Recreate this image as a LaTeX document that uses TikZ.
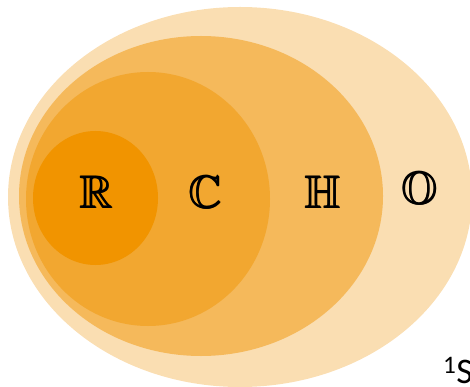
\documentclass[tikz,border=0pt]{standalone}
\usepackage{amsmath, amssymb}
\usepackage{fontspec}
\newfontfamily\notefont{Carlito}
\usepackage{tikz}
\usetikzlibrary{positioning}
\definecolor{octcol}{RGB}{250,222,178}
\definecolor{quatcol}{RGB}{245,185,91}
\definecolor{cplxcol}{RGB}{242,167,48}
\definecolor{realcol}{RGB}{241,148,0}
\tikzset{
  setlabel/.style={inner sep=0pt, font=\fontsize{46}{50}\selectfont},
}

\begin{document}
\begin{tikzpicture}[x=1pt,y=-1pt]
            \useasboundingbox (0,0) rectangle (470,387);
            \clip (0,0) rectangle (470,387);
            \coordinate (co) at (240,197);
            \coordinate (ch) at (201,196);
            \coordinate (cc) at (148,199);
            \coordinate (cr) at (95.5,198);
            \fill[octcol] (co) ellipse [x radius=232, y radius=190];
            \fill[quatcol] (ch) ellipse [x radius=182, y radius=160];
            \fill[cplxcol] (cc) ellipse [x radius=122, y radius=127];
            \fill[realcol] (cr) ellipse [x radius=62.5, y radius=67];
            \node[setlabel] (R) at (97,192) {$\pmb{\mathbb{R}}$};
            \node[setlabel] (C) at (206,192) {$\pmb{\mathbb{C}}$};
            \node[setlabel] (H) at (323,192) {$\pmb{\mathbb{H}}$};
            \node[setlabel] (O) at (420,192) {$\pmb{\mathbb{O}}$};
            \node[anchor=base west, inner sep=0pt, font=\notefont\fontsize{36}{40}\selectfont] (note) at (443,383) {\textsuperscript{1}S};
          \end{tikzpicture}
\end{document}
